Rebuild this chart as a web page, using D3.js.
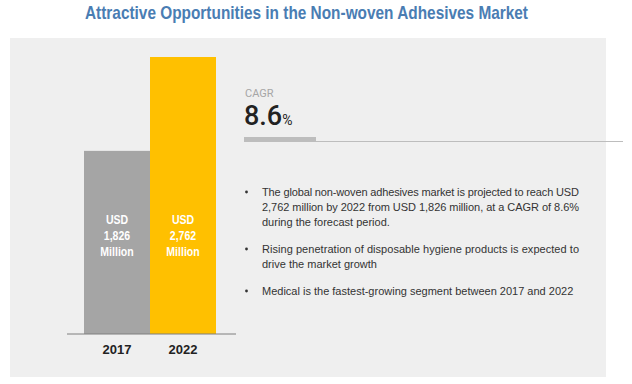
<!DOCTYPE html>
<html>
<head>
<meta charset="utf-8">
<script src="https://cdn.jsdelivr.net/npm/d3@7"></script>
<style>
  body { margin: 0; background: #fff; }
  svg { display: block; }
</style>
</head>
<body>
<svg width="632" height="384"></svg>
<script>
var years = ["2017", "2022"];
var values = [1826, 2762];
var barColors = ["#a5a5a5", "#ffc000"];
var barLabels = [["USD", "1,826", "Million"], ["USD", "2,762", "Million"]];
var cagr = "8.6";
var bullets = [
  ["The global non-woven adhesives market is projected to reach USD",
   "2,762 million by 2022 from USD 1,826 million, at a CAGR of 8.6%",
   "during the forecast period."],
  ["Rising penetration of disposable hygiene products is expected to",
   "drive the market growth"],
  ["Medical is the fastest-growing segment between 2017 and 2022"]
];

var svg = d3.select("svg");

// title
svg.append("text")
  .attr("x", 85).attr("y", 19)
  .attr("textLength", 443).attr("lengthAdjust", "spacingAndGlyphs")
  .style("font-family", "'Liberation Sans Narrow', 'Liberation Sans', sans-serif")
  .style("font-weight", "bold").style("font-size", "19px")
  .attr("fill", "#4a7db3")
  .text("Attractive Opportunities in the Non-woven Adhesives Market");

// grey panel
svg.append("rect")
  .attr("x", 10).attr("y", 38).attr("width", 596).attr("height", 339)
  .attr("fill", "#efefef");

var x = d3.scaleBand().domain(years).range([84, 216]).padding(0);
var y = d3.scaleLinear().domain([0, 2762]).range([334, 57]);

svg.selectAll(".bar")
  .data(values)
  .enter().append("rect")
  .attr("x", (d, i) => x(years[i]))
  .attr("y", d => y(d))
  .attr("width", x.bandwidth())
  .attr("height", d => y(0) - y(d))
  .attr("fill", (d, i) => barColors[i]);

// labels inside bars (condensed look via horizontal scale)
barLabels.forEach(function(lines, i) {
  var g = svg.append("g")
    .attr("transform", "translate(" + (x(years[i]) + x.bandwidth() / 2) + ",0) scale(0.78,1)");
  var t = g.append("text")
    .attr("text-anchor", "middle")
    .style("font-family", "'Liberation Sans', Arial, sans-serif")
    .style("font-weight", "bold").style("font-size", "13.5px")
    .attr("fill", "#fff");
  lines.forEach(function(l, j) {
    t.append("tspan")
      .attr("x", 0)
      .attr("y", 224 + j * 16)
      .text(l);
  });
});

// baseline + years
svg.append("line")
  .attr("x1", 67).attr("x2", 236).attr("y1", y(0)).attr("y2", y(0))
  .attr("stroke", "#7f7f7f").attr("stroke-width", 1);

svg.selectAll(".year")
  .data(years)
  .enter().append("text")
  .attr("x", d => x(d) + x.bandwidth() / 2)
  .attr("y", 354)
  .attr("text-anchor", "middle")
  .style("font-family", "'Liberation Sans', Arial, sans-serif")
  .style("font-weight", "bold").style("font-size", "13px")
  .attr("fill", "#222")
  .text(d => d);

// CAGR block
svg.append("text")
  .attr("x", 245).attr("y", 97)
  .style("font-family", "Roboto, sans-serif").style("font-size", "11px")
  .attr("fill", "#a6a6a6")
  .text("CAGR");

var c = svg.append("text")
  .attr("x", 244).attr("y", 125)
  .style("font-family", "Roboto, sans-serif").style("font-weight", "500")
  .attr("fill", "#222");
c.append("tspan").style("font-size", "27px").text(cagr);
c.append("tspan").style("font-size", "14px").style("font-weight", "400").text("%");

svg.append("line")
  .attr("x1", 244).attr("x2", 623).attr("y1", 141.5).attr("y2", 141.5)
  .attr("stroke", "#bdbdbd").attr("stroke-width", 1);
svg.append("rect")
  .attr("x", 244).attr("y", 137).attr("width", 72).attr("height", 4)
  .attr("fill", "#bdbdbd");

// bullets
var lineY = 196;
bullets.forEach(function(para) {
  svg.append("circle").attr("cx", 246.5).attr("cy", lineY - 4).attr("r", 1.4).attr("fill", "#333");
  para.forEach(function(l, j) {
    var t = svg.append("text")
      .attr("x", 262).attr("y", lineY)
      .style("font-family", "'Liberation Sans', Arial, sans-serif").style("font-size", "11px")
      .attr("fill", "#333")
      .text(l);
    if (j < para.length - 1) t.attr("textLength", 317).attr("lengthAdjust", "spacing");
    lineY += 15;
  });
  lineY += 12;
});
</script>
</body>
</html>
